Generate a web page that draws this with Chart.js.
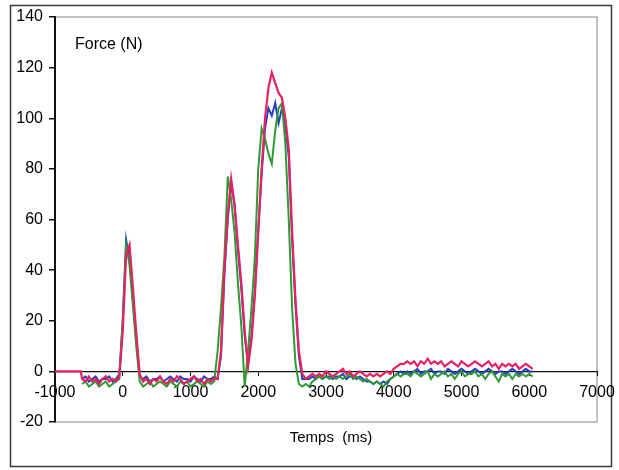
<!DOCTYPE html>
<html>
<head>
<meta charset="utf-8">
<script src="https://cdn.jsdelivr.net/npm/chart.js@4"></script>
<style>
  html, body { margin: 0; padding: 0; background: #fff; }
  canvas { display: block; }
</style>
</head>
<body>
<canvas id="c" width="619" height="470"></canvas>
<script>
// Sampling times (ms)
const t = [
  -600,-550,-500,-450,-400,-350,-300,-250,-200,-150,-100,-50,
  0,50,100,150,200,250,
  300,350,400,450,500,550,600,650,700,750,800,850,900,950,1000,1050,1100,1150,1200,1250,1300,1350,
  1400,1450,1500,1550,1600,1650,1700,1750,1800,1850,1900,1950,2000,2050,2100,2150,2200,2250,2300,2350,2400,2450,2500,2550,2600,2650,
  2700,2750,2800,2850,2900,2950,3000,3050,3100,3150,
  3200,3250,3300,3350,3400,3450,3500,3550,3600,3650,
  3700,3750,3800,3850,3900,3950,4000,4050,4100,4150,
  4200,4250,4300,4350,4400,4450,4500,4550,4600,4650,
  4700,4750,4800,4850,4900,4950,5000,5050,5100,5150,
  5200,5250,5300,5350,5400,5450,5500,5550,5600,5650,
  5700,5750,5800,5850,5900,5950,6000,6050
];

// Red series leading segment (flat at 0 from the left edge)
const redLeadT = [-1000, -620];
const redLeadY = [0, 0];

const red = [
  -3,-4,-2,-4,-3,-5,-3,-2,-4,-3,-4,-2,
  16,46,50,33,15,-1,
  -4,-3,-5,-3,-4,-2,-4,-5,-3,-4,-2,-3,-5,-4,-3,-2,-4,-3,-5,-3,-4,-3,
  -3,8,40,62,76,66,50,35,16,2,12,30,55,80,100,112,118,114,110,108,100,88,55,28,8,-1,
  -3,-2,-1,-2,-1,-2,0,-1,-2,-1,
  0,1,-1,0,-2,-1,0,-1,-2,-1,
  -2,-1,-2,-1,0,-1,1,2,3,3,
  4,3,4,2,4,3,5,3,4,3,
  4,2,3,4,3,2,4,3,2,3,
  4,3,2,3,4,2,3,1,3,2,
  3,2,3,1,2,3,2,1
];

const blue = [
  -3,-2,-4,-3,-2,-4,-3,-3,-2,-4,-3,-1,
  20,52,44,28,12,-2,
  -3,-2,-4,-3,-3,-2,-4,-3,-2,-3,-4,-2,-3,-3,-4,-2,-3,-4,-2,-3,-3,-2,
  -3,6,38,60,74,66,48,33,14,3,14,32,56,78,96,104,101,106,98,104,97,85,52,26,6,-3,
  -3,-3,-2,-3,-2,-3,-2,-2,-3,-2,
  -2,-1,-3,-2,-2,-3,-2,-3,-4,-4,
  -5,-4,-5,-4,-5,-3,-2,-1,0,-1,
  0,-1,0,1,-1,0,0,1,-1,0,
  0,-1,1,0,-1,0,1,0,-1,0,
  1,0,-1,0,1,0,-1,0,0,-1,
  0,1,0,-1,0,1,0,0
];

const green = [
  -5,-4,-6,-5,-4,-6,-5,-4,-6,-5,-4,-3,
  20,50,42,26,10,-4,
  -6,-5,-4,-6,-5,-4,-5,-6,-4,-5,-6,-4,-5,-4,-6,-5,-4,-5,-6,-4,-5,-4,
  8,25,45,77,68,55,35,18,-6,8,25,45,80,96,92,86,82,95,104,106,90,60,25,3,-5,-6,
  -5,-6,-4,-3,-2,-3,-2,-3,-2,-3,
  -2,-3,-2,-1,-3,-2,-3,-4,-3,-4,
  -5,-4,-5,-6,-4,-3,-2,-1,-2,-1,
  -1,-2,0,-1,-2,-1,0,-3,-1,-2,
  -1,0,-2,-1,-3,-1,0,-2,-1,-1,
  0,-2,-1,-3,-1,0,-2,-4,-1,-2,
  -1,-3,-1,-2,-1,-2,-1,-2
];

const xTicks = [-1000,0,1000,2000,3000,4000,5000,6000,7000];
const yTicks = [-20,0,20,40,60,80,100,120,140];
const yLabel = 'Force (N)';
const xLabel = 'Temps  (ms)';

const toPts = (xs, ys) => xs.map((x, i) => ({ x: x, y: ys[i] }));
const redPts = toPts(redLeadT, redLeadY).concat(toPts(t, red));

const FONT = '"Liberation Sans", Arial, sans-serif';

const framePlugin = {
  id: 'frame',
  beforeDraw(chart) {
    const ctx = chart.ctx, a = chart.chartArea;
    ctx.save();
    ctx.fillStyle = '#fff';
    ctx.fillRect(0, 0, chart.width, chart.height);
    // outer frame
    ctx.strokeStyle = '#3a3a3a';
    ctx.lineWidth = 1.5;
    ctx.strokeRect(10.5, 5.5, 601, 461);
    // plot area border
    ctx.strokeStyle = '#9a9a9a';
    ctx.lineWidth = 1.2;
    ctx.strokeRect(a.left, a.top, a.right - a.left, a.bottom - a.top);
    ctx.restore();
  },
  afterDraw(chart) {
    const ctx = chart.ctx;
    ctx.save();
    ctx.fillStyle = '#000';
    ctx.textBaseline = 'middle';
    ctx.textAlign = 'left';
    ctx.font = '16px ' + FONT;
    ctx.fillText(yLabel, 75, 45);
    ctx.textAlign = 'center';
    ctx.font = '15px ' + FONT;
    ctx.fillText(xLabel, 331, 438);
    ctx.restore();
  }
};

new Chart(document.getElementById('c'), {
  type: 'line',
  data: {
    datasets: [
      { label: 'red', data: redPts, borderColor: '#e8215f', borderWidth: 2.2 },
      { label: 'green', data: toPts(t, green), borderColor: '#2f9a35', borderWidth: 2 },
      { label: 'blue', data: toPts(t, blue), borderColor: '#2440c0', borderWidth: 2 }
    ]
  },
  options: {
    responsive: false,
    animation: false,
    devicePixelRatio: 1,
    layout: { padding: { top: 17, right: 22, bottom: 48, left: 0 } },
    elements: { point: { radius: 0 }, line: { tension: 0 } },
    plugins: { legend: { display: false }, tooltip: { enabled: false } },
    scales: {
      x: {
        type: 'linear',
        position: { y: 0 },
        min: -1000, max: 7000,
        afterBuildTicks(s) { s.ticks = xTicks.map(v => ({ value: v })); },
        afterFit(s) { s.paddingLeft = 0; s.paddingRight = 0; },
        ticks: {
          color: '#000',
          font: { family: FONT, size: 16 },
          padding: 8,
          maxRotation: 0,
          autoSkip: false,
          callback: v => String(v)
        },
        grid: { drawOnChartArea: false, drawTicks: true, tickLength: 4, color: '#111' },
        border: { color: '#111', width: 1.2 }
      },
      y: {
        type: 'linear',
        position: 'left',
        min: -20, max: 140,
        afterBuildTicks(s) { s.ticks = yTicks.map(v => ({ value: v })); },
        afterFit(s) { s.width = 55; },
        ticks: {
          color: '#000',
          font: { family: FONT, size: 16 },
          padding: 6,
          callback: v => String(v)
        },
        grid: { drawOnChartArea: false, drawTicks: true, tickLength: 6, color: '#111', lineWidth: 1.5 },
        border: { color: '#111', width: 2 }
      }
    }
  },
  plugins: [framePlugin]
});
</script>
</body>
</html>
